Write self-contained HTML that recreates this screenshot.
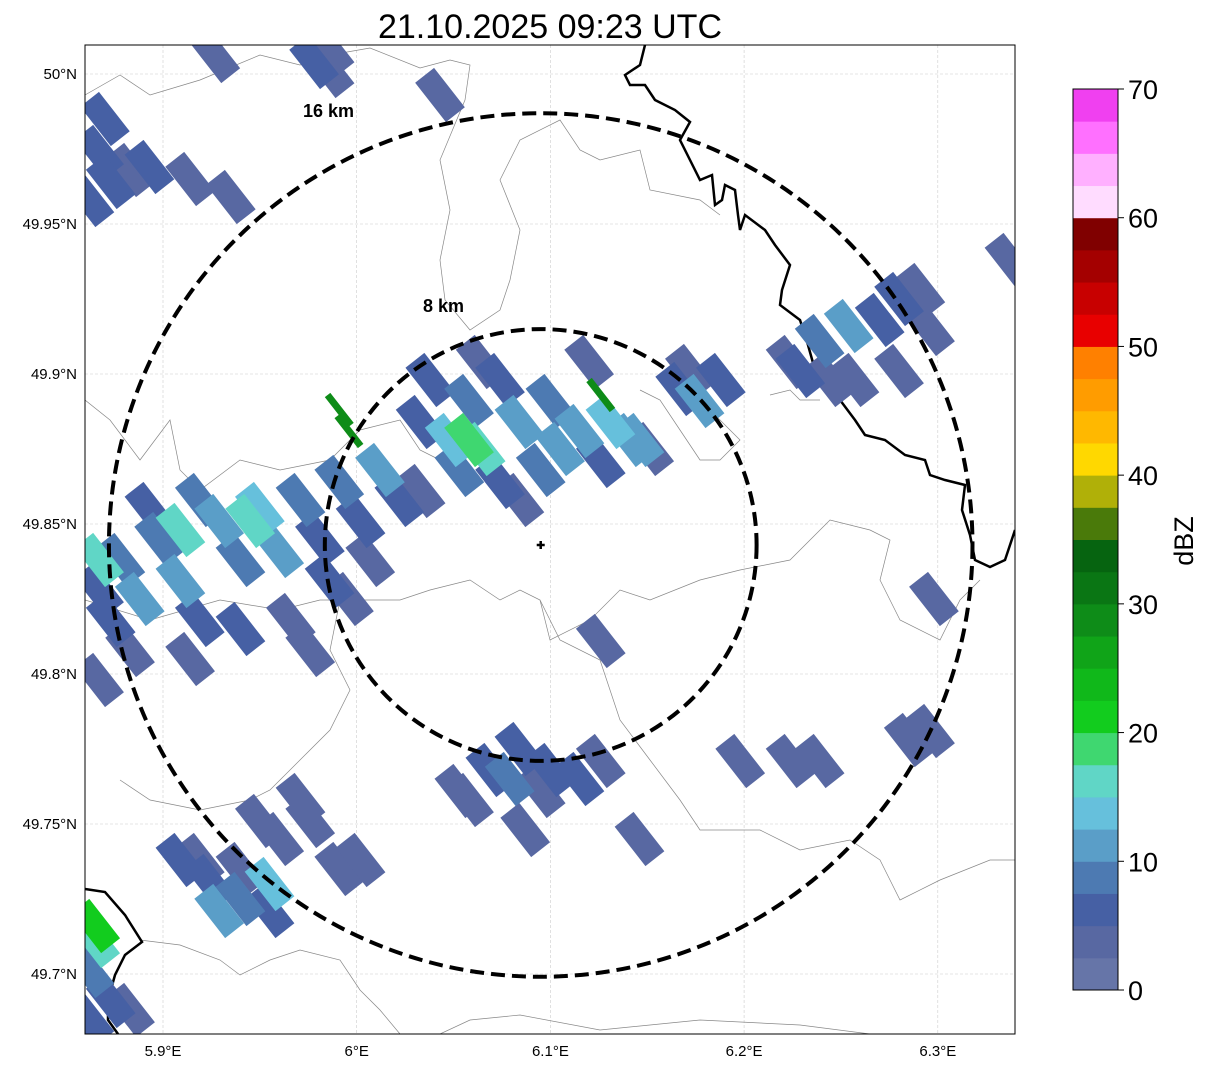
<!DOCTYPE html>
<html><head><meta charset="utf-8"><style>
body{margin:0;background:#fff;width:1207px;height:1069px;overflow:hidden;font-family:"Liberation Sans",sans-serif}
svg{position:absolute;left:0;top:0}
</style></head><body>
<svg id="chart" width="1207" height="1069" xmlns="http://www.w3.org/2000/svg">
<text x="550" y="38" font-size="34" text-anchor="middle" font-family="Liberation Sans, sans-serif">21.10.2025 09:23 UTC</text>
<defs><clipPath id="clip"><rect x="85" y="45" width="930" height="989"/></clipPath></defs>
<g id="grid"></g>
<g id="borders" clip-path="url(#clip)" fill="none">
<polyline stroke="#888" stroke-width="0.7" points="85,95 120,75 150,95 200,80 260,55 300,65 330,55 370,48 420,68 450,60 470,65 465,100 440,160 450,210 440,260 445,300 470,330 500,310 510,280 520,230 500,180 520,140 560,120 580,150 600,160 640,150 650,190 700,200 720,215"/>
<polyline stroke="#888" stroke-width="0.7" points="85,400 110,420 140,460 170,420 180,470 200,490 240,460 280,470 330,460 360,430 400,420 420,450 440,460"/>
<polyline stroke="#888" stroke-width="0.7" points="85,600 150,620 220,600 280,610 320,600 360,600 400,600 430,590 470,580 500,600 520,590 540,600 550,640 590,620 620,590 650,600 700,580 740,570 790,560 830,520 870,530 890,540 880,580 900,620 940,640 960,600 980,580"/>
<polyline stroke="#888" stroke-width="0.7" points="340,600 330,650 350,690 330,730 300,760 270,790 250,800 200,810 150,800 120,780"/>
<polyline stroke="#888" stroke-width="0.7" points="540,600 560,640 600,660 620,720 650,760 680,800 700,830 760,830 800,850 850,840 880,860 900,900 940,880 990,860 1015,860"/>
<polyline stroke="#888" stroke-width="0.7" points="140,940 180,945 220,960 240,975 270,960 300,950 340,960 360,990 380,1010 400,1034"/>
<polyline stroke="#888" stroke-width="0.7" points="700,400 720,420 740,440 720,460 700,460 680,430 660,400 640,390"/>
<polyline stroke="#888" stroke-width="0.7" points="820,400 800,400 790,390 770,395"/>
<polyline stroke="#888" stroke-width="0.7" points="440,1034 470,1020 520,1015 600,1030 700,1020 800,1025 870,1034"/>
<polyline stroke="#000" stroke-width="2.5" points="645,45 640,65 625,75 630,85 645,85 655,100 675,110 690,122 680,140 690,160 700,180 712,175 715,205 722,200 725,185 735,190 738,215 740,230 745,215 765,230 775,245 790,265 782,290 780,305 800,320 808,345 815,370 835,375 845,390 840,400 855,420 865,435 885,440 905,455 925,460 930,475 945,480 965,485 962,510 970,535 975,560 990,567 1005,560 1015,530"/>
<polyline stroke="#000" stroke-width="2.5" points="85,889 105,892 125,915 142,942 125,955 115,975 108,1000 108,1020 118,1034"/>
</g>
<g id="cells" clip-path="url(#clip)"></g>
<g id="rings" fill="none" stroke="#000" stroke-width="4" stroke-dasharray="14,7"></g>
<text x="303" y="117" font-size="18" font-weight="bold">16 km</text>
<text x="423" y="312" font-size="18" font-weight="bold">8 km</text>
<rect x="85" y="45" width="930" height="989" fill="none" stroke="#000" stroke-width="1"/>
<g id="axes" font-size="15"></g>
<g id="cbar"></g>
<text x="1193" y="541" font-size="27" text-anchor="middle" transform="rotate(-90 1193 541)">dBZ</text>
</svg>
<script>
const NS='http://www.w3.org/2000/svg';
const lonTicks=[5.9,6.0,6.1,6.2,6.3];
const lonLabels=['5.9°E','6°E','6.1°E','6.2°E','6.3°E'];
const latTicks=[50.0,49.95,49.9,49.85,49.8,49.75,49.7];
const latLabels=['50°N','49.95°N','49.9°N','49.85°N','49.8°N','49.75°N','49.7°N'];
const cbarLevels=[0,2.5,5,7.5,10,12.5,15,17.5,20,22.5,25,27.5,30,32.5,35,37.5,40,42.5,45,47.5,50,52.5,55,57.5,60,62.5,65,67.5,70];
const cbarColors=['#6675a8','#5868a2','#4660a4','#4d7ab2','#5a9ec8','#66c0dc','#60d6c6','#3fd770','#12cc1e','#10b81a','#10a418','#0e8c18','#0a7614','#066410','#4a7a0a','#b0b008','#ffd800','#ffb800','#ff9c00','#ff8000','#e80000','#c80000','#a40000','#800000','#ffdcff','#ffb0ff','#ff70ff','#f040f0'];
const cbarTicks=[0,10,20,30,40,50,60,70];
const radarLon=6.095, radarLat=49.843;
const ringsKm=[8,16];
const cellLon=[5.867,5.878,5.888,5.873,5.883,5.898,5.909,5.919,5.929,5.940,5.950,5.960,5.971,5.981,5.991,6.002,6.012,6.022,6.033,5.940,5.966,5.986,5.996,5.914,5.867,5.893,5.919,6.007,5.976,5.867,5.909,5.945,
6.038,6.058,6.074,6.048,6.064,6.084,6.100,6.115,6.131,6.141,6.053,6.074,6.095,6.084,6.105,6.126,6.151,6.033,6.064,6.120,6.058,6.146,
5.991,5.996,6.126,
6.167,6.177,6.188,6.172,6.229,6.239,6.254,6.270,6.280,6.291,6.244,6.224,6.296,6.337,6.257,6.280,
6.053,6.069,6.084,6.100,6.115,6.126,6.095,6.058,6.079,6.126,6.087,6.146,6.198,6.224,6.239,6.285,6.296,6.298,
5.909,5.924,5.940,5.955,5.940,5.960,5.976,5.991,6.002,5.971,5.950,5.929,5.955,5.919,
5.867,5.873,5.883,5.893,5.914,5.935,5.862,5.870,5.927,5.978,5.986,6.043,5.986,
5.865,5.862,5.873,5.883,5.862,5.865];
const cellLat=[49.828,49.838,49.825,49.818,49.808,49.845,49.831,49.818,49.851,49.838,49.855,49.841,49.858,49.845,49.864,49.851,49.868,49.858,49.861,49.815,49.818,49.831,49.825,49.805,49.798,49.855,49.858,49.838,49.808,49.838,49.848,49.851,
49.898,49.891,49.898,49.878,49.875,49.884,49.891,49.881,49.884,49.878,49.868,49.864,49.868,49.858,49.875,49.871,49.875,49.884,49.904,49.904,49.878,49.878,
49.888,49.881,49.893,
49.895,49.891,49.898,49.901,49.901,49.911,49.916,49.918,49.925,49.928,49.898,49.904,49.915,49.938,49.898,49.901,
49.761,49.768,49.775,49.768,49.765,49.771,49.761,49.758,49.765,49.811,49.748,49.745,49.771,49.771,49.771,49.778,49.781,49.825,
49.738,49.731,49.725,49.721,49.735,49.745,49.751,49.735,49.738,49.758,49.751,49.721,49.730,49.738,
49.974,49.964,49.968,49.969,49.965,49.959,49.958,49.985,50.006,50.004,50.008,49.993,50.001,
49.711,49.701,49.691,49.688,49.685,49.716];
const cellDbz=[5,8,10,5,3,8,12,5,10,8,14,10,8,5,8,5,10,5,3,5,3,5,3,3,3,5,8,3,3,15,16,16,
5,8,5,14,17,10,8,12,14,10,8,5,8,3,10,5,3,5,3,3,19,12,
28,28,28,
5,10,5,3,5,8,10,5,5,3,3,3,3,3,3,3,
3,5,5,5,5,3,3,3,8,3,3,3,3,3,3,3,3,3,
5,5,8,5,3,3,3,3,3,3,3,10,14,3,
5,5,3,5,3,3,5,5,3,5,3,3,3,
15,8,5,3,5,20];
const X=lon=>163+(lon-5.9)*1937;
const Y=lat=>974-(lat-49.7)*3000;
const pxPerKm=1937/(111.32*Math.cos(49.85*Math.PI/180));
function colorFor(v){for(let i=cbarLevels.length-2;i>=0;i--){if(v>=cbarLevels[i])return cbarColors[i];}return cbarColors[0];}
function mk(tag,attrs,parent){const e=document.createElementNS(NS,tag);for(const k in attrs)e.setAttribute(k,attrs[k]);parent.appendChild(e);return e;}
const grid=document.getElementById('grid'),axes=document.getElementById('axes');
lonTicks.forEach((t,i)=>{const x=X(t);
 const l=mk('line',{x1:x,x2:x,y1:45,y2:1034,stroke:'#ccc','stroke-width':0.6,'stroke-dasharray':'3,2'},grid);
 
 
 const tx=mk('text',{x:x,y:1056,'text-anchor':'middle'},axes);tx.textContent=lonLabels[i];
 
 });
latTicks.forEach((t,i)=>{const y=Y(t);
 const l=mk('line',{x1:85,x2:1015,y1:y,y2:y,stroke:'#ccc','stroke-width':0.6,'stroke-dasharray':'3,2'},grid);
 
 
 const tx=mk('text',{x:77,y:y+5,'text-anchor':'end'},axes);tx.textContent=latLabels[i];
 
 });
const cells=document.getElementById('cells');
const cx=X(radarLon),cy=Y(radarLat);
const order=cellDbz.map((v,i)=>i).sort((a,b)=>cellDbz[a]-cellDbz[b]);
order.forEach(i=>{
 const x=X(cellLon[i]),y=Y(cellLat[i]);
 const big=cellDbz[i]<25;
 const w=big?50:38,h=big?24:7;
 const r=mk('rect',{x:x-w/2,y:y-h/2,width:w,height:h,fill:colorFor(cellDbz[i]),transform:`rotate(52 ${x} ${y})`},cells);
 
 
});
const rings=document.getElementById('rings');
ringsKm.forEach(k=>{const c=mk('circle',{cx:cx,cy:cy,r:k*pxPerKm},rings);
 
 });
const mark=mk('path',{d:`M${cx-4},${cy}H${cx+4}M${cx},${cy-4}V${cy+4}`,stroke:'#000','stroke-width':2.5},document.getElementById('chart'));


const cb=document.getElementById('cbar');
const CB0=990,CB1=89,V=v=>CB0-(v/70)*(CB0-CB1);
for(let i=0;i<cbarColors.length;i++){
 const r=mk('rect',{x:1073,y:V(cbarLevels[i+1]),width:45,height:V(cbarLevels[i])-V(cbarLevels[i+1])+0.5,fill:cbarColors[i]},cb);
 
 }
mk('rect',{x:1073,y:CB1,width:45,height:CB0-CB1,fill:'none',stroke:'#000','stroke-width':1},cb);
cbarTicks.forEach(t=>{const y=V(t);mk('line',{x1:1118,x2:1124,y1:y,y2:y,stroke:'#000'},cb);
 const tx=mk('text',{x:1128,y:y+10,'font-size':27},cb);tx.textContent=t;
 
 });
</script>
</body></html>
